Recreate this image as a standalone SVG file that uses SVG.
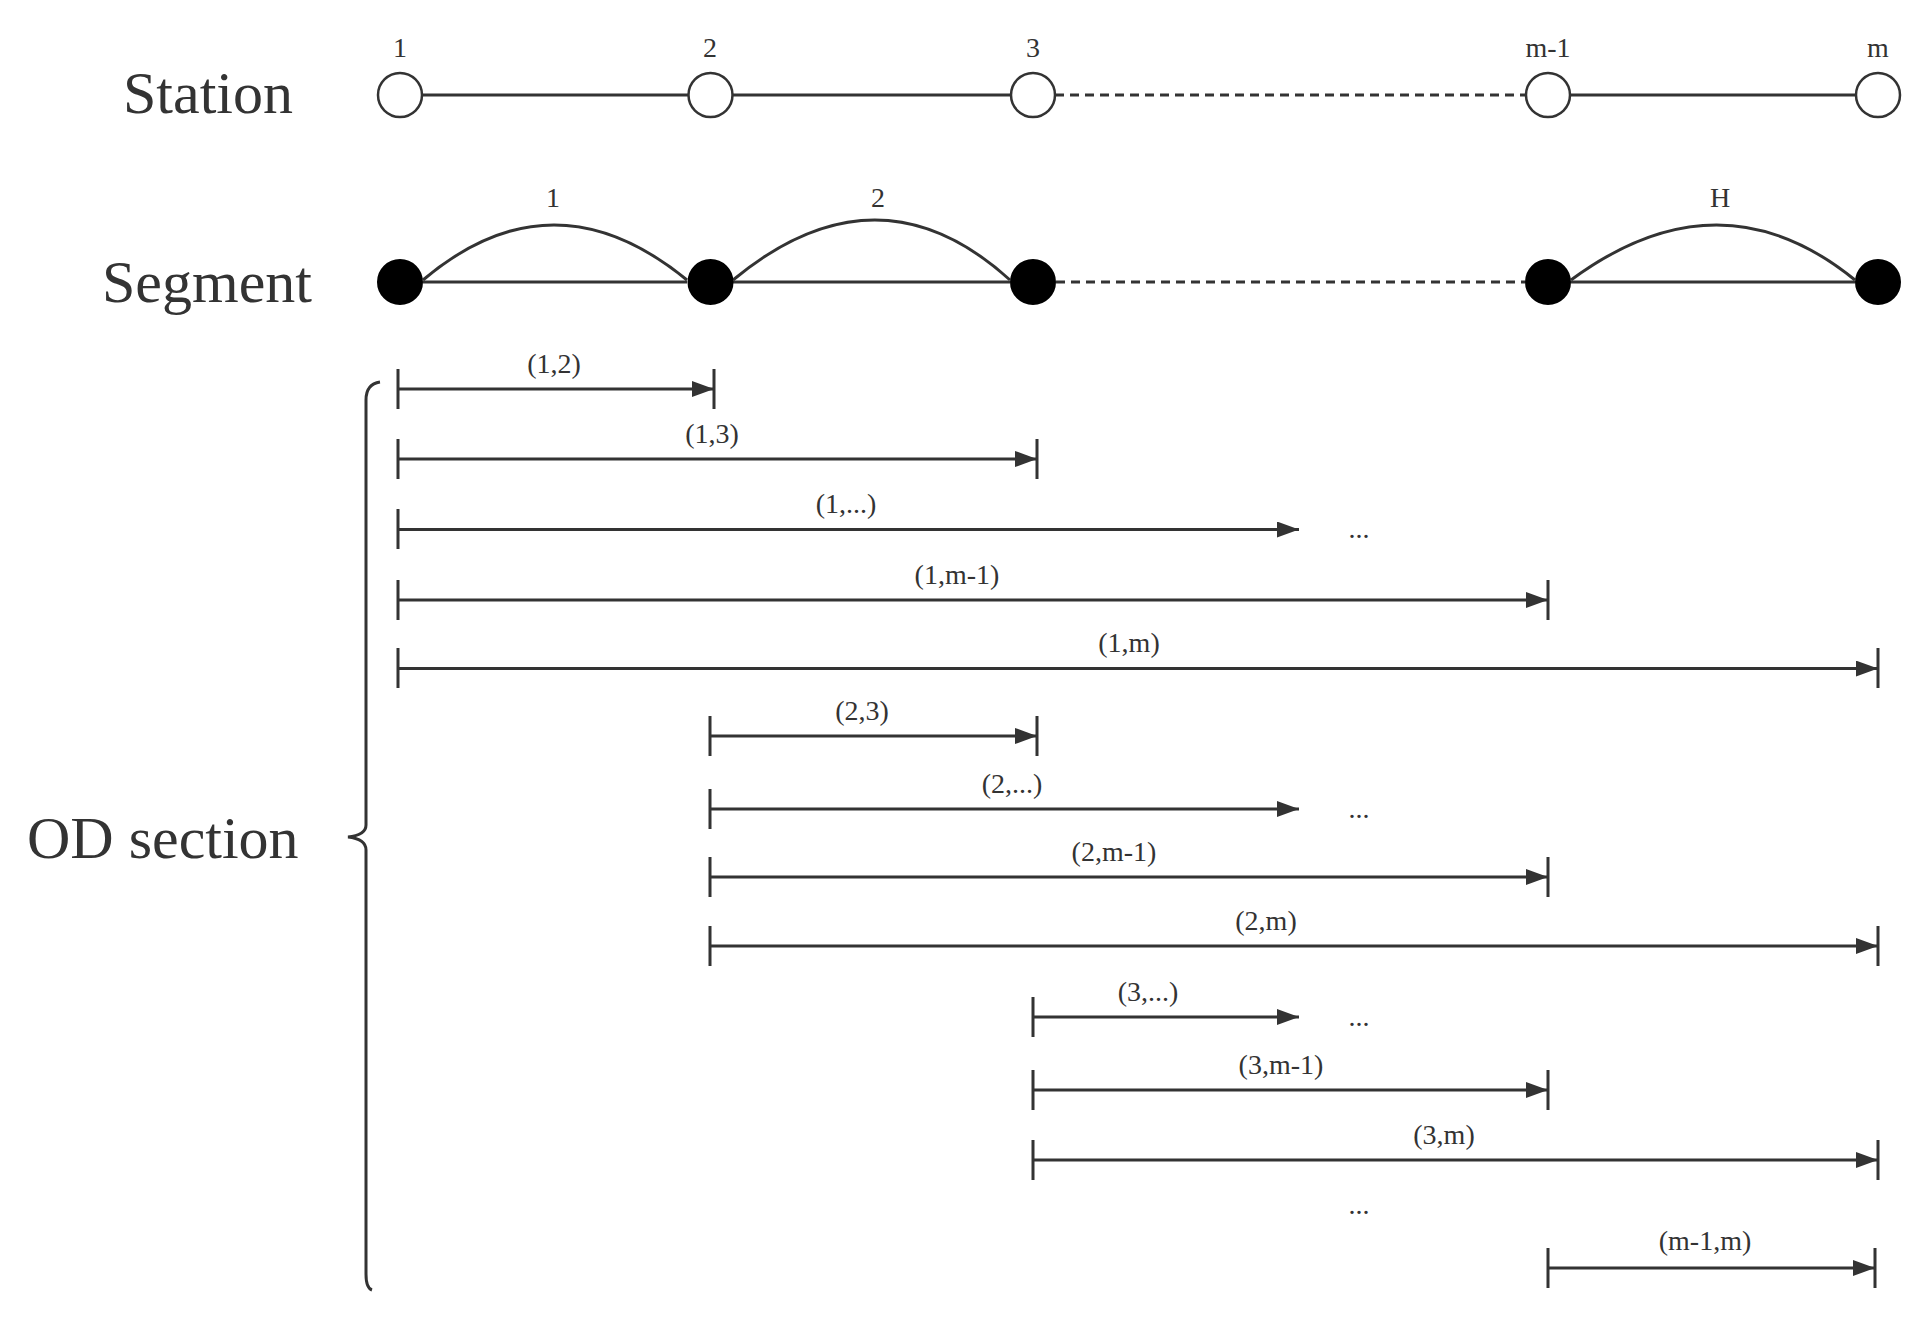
<svg xmlns="http://www.w3.org/2000/svg" width="1921" height="1324" viewBox="0 0 1921 1324">
<style>
.t{font-family:"Liberation Serif",serif;fill:#333}
.big{font-size:60px}
.sm{font-size:28px;text-anchor:middle}
.ln{stroke:#333;stroke-width:3;fill:none}
.ds{stroke:#333;stroke-width:3;stroke-dasharray:9,6;fill:none}
.oc{fill:#fff;stroke:#333;stroke-width:2.5}
.fc{fill:#000;stroke:#000;stroke-width:2}
</style>
<defs>
<marker id="ah" markerWidth="10" markerHeight="8" refX="10" refY="4" orient="auto" markerUnits="userSpaceOnUse" viewBox="0 0 10 8"><path d="M0,0L10,4L0,8z" fill="#333"/></marker>
<marker id="ah2" markerWidth="22" markerHeight="16" refX="22" refY="8" orient="auto" markerUnits="userSpaceOnUse" viewBox="0 0 22 16"><path d="M0,0L22,8L0,16z" fill="#333"/></marker>
</defs>
<rect width="1921" height="1324" fill="#fff"/>
<text class="t big" x="123" y="113">Station</text>
<text class="t big" x="102" y="302">Segment</text>
<text class="t big" x="27" y="858">OD section</text>
<g id="connectors">
<path class="ln" d="M422,95H688M733,95H1011M1570,95H1856"/>
<path class="ds" d="M1055,95H1526"/>
<path class="ln" d="M423,282H687M733,282H1010M1571,282H1855"/>
<path class="ds" d="M1056,282H1525"/>
<path class="ln" d="M423,280Q553,170 687,280M733,280Q878,160 1010,280M1571,280Q1720,170 1855,280"/>
<path class="ln" d="M380,382Q366,384 366,400V825Q366,835 348,837Q366,839 366,850V1274Q366,1288 372,1290"/>
</g>
<g id="stations">
<circle class="oc" cx="400" cy="95" r="22"/><circle class="oc" cx="710.5" cy="95" r="22"/><circle class="oc" cx="1033" cy="95" r="22"/><circle class="oc" cx="1548" cy="95" r="22"/><circle class="oc" cx="1878" cy="95" r="22"/>
<text class="t sm" x="400" y="57">1</text><text class="t sm" x="710" y="57">2</text><text class="t sm" x="1033" y="57">3</text><text class="t sm" x="1548" y="57">m-1</text><text class="t sm" x="1878" y="57">m</text>
</g>
<g id="segments">
<circle class="fc" cx="400" cy="282" r="22"/><circle class="fc" cx="710.5" cy="282" r="22"/><circle class="fc" cx="1033" cy="282" r="22"/><circle class="fc" cx="1548" cy="282" r="22"/><circle class="fc" cx="1878" cy="282" r="22"/>
<text class="t sm" x="553" y="207">1</text><text class="t sm" x="878" y="207">2</text><text class="t sm" x="1720" y="207">H</text>
</g>
<g id="od">
<path class="ln" d="M398,369V409M714,369V409M398,439V479M1037,439V479M398,509V549M398,580V620M1548,580V620M398,648V688M1878,648V688M710,716V756M1037,716V756M710,789V829M710,857V897M1548,857V897M710,926V966M1878,926V966M1033,997V1037M1033,1070V1110M1548,1070V1110M1033,1140V1180M1878,1140V1180M1548,1248V1288M1875,1248V1288"/>
<g class="ln" marker-end="url(#ah2)">
<path d="M398,389H714"/><path d="M398,459H1037"/><path d="M398,529.5H1299"/><path d="M398,600H1548"/><path d="M398,668.6H1878"/>
<path d="M710,736H1037"/><path d="M710,809H1299"/><path d="M710,877H1548"/><path d="M710,946H1878"/>
<path d="M1033,1017H1299"/><path d="M1033,1090H1548"/><path d="M1033,1160H1878"/><path d="M1548,1268H1875"/>
</g>
<text class="t sm" x="554" y="373">(1,2)</text><text class="t sm" x="712" y="443">(1,3)</text><text class="t sm" x="846" y="513">(1,...)</text><text class="t sm" x="957" y="584">(1,m-1)</text><text class="t sm" x="1129" y="652">(1,m)</text>
<text class="t sm" x="862" y="720">(2,3)</text><text class="t sm" x="1012" y="793">(2,...)</text><text class="t sm" x="1114" y="861">(2,m-1)</text><text class="t sm" x="1266" y="930">(2,m)</text>
<text class="t sm" x="1148" y="1001">(3,...)</text><text class="t sm" x="1281" y="1074">(3,m-1)</text><text class="t sm" x="1444" y="1144">(3,m)</text><text class="t sm" x="1705" y="1250">(m-1,m)</text>
<text class="t sm" x="1359" y="538">...</text><text class="t sm" x="1359" y="818">...</text><text class="t sm" x="1359" y="1026">...</text><text class="t sm" x="1359" y="1214">...</text>
</g>
</svg>
